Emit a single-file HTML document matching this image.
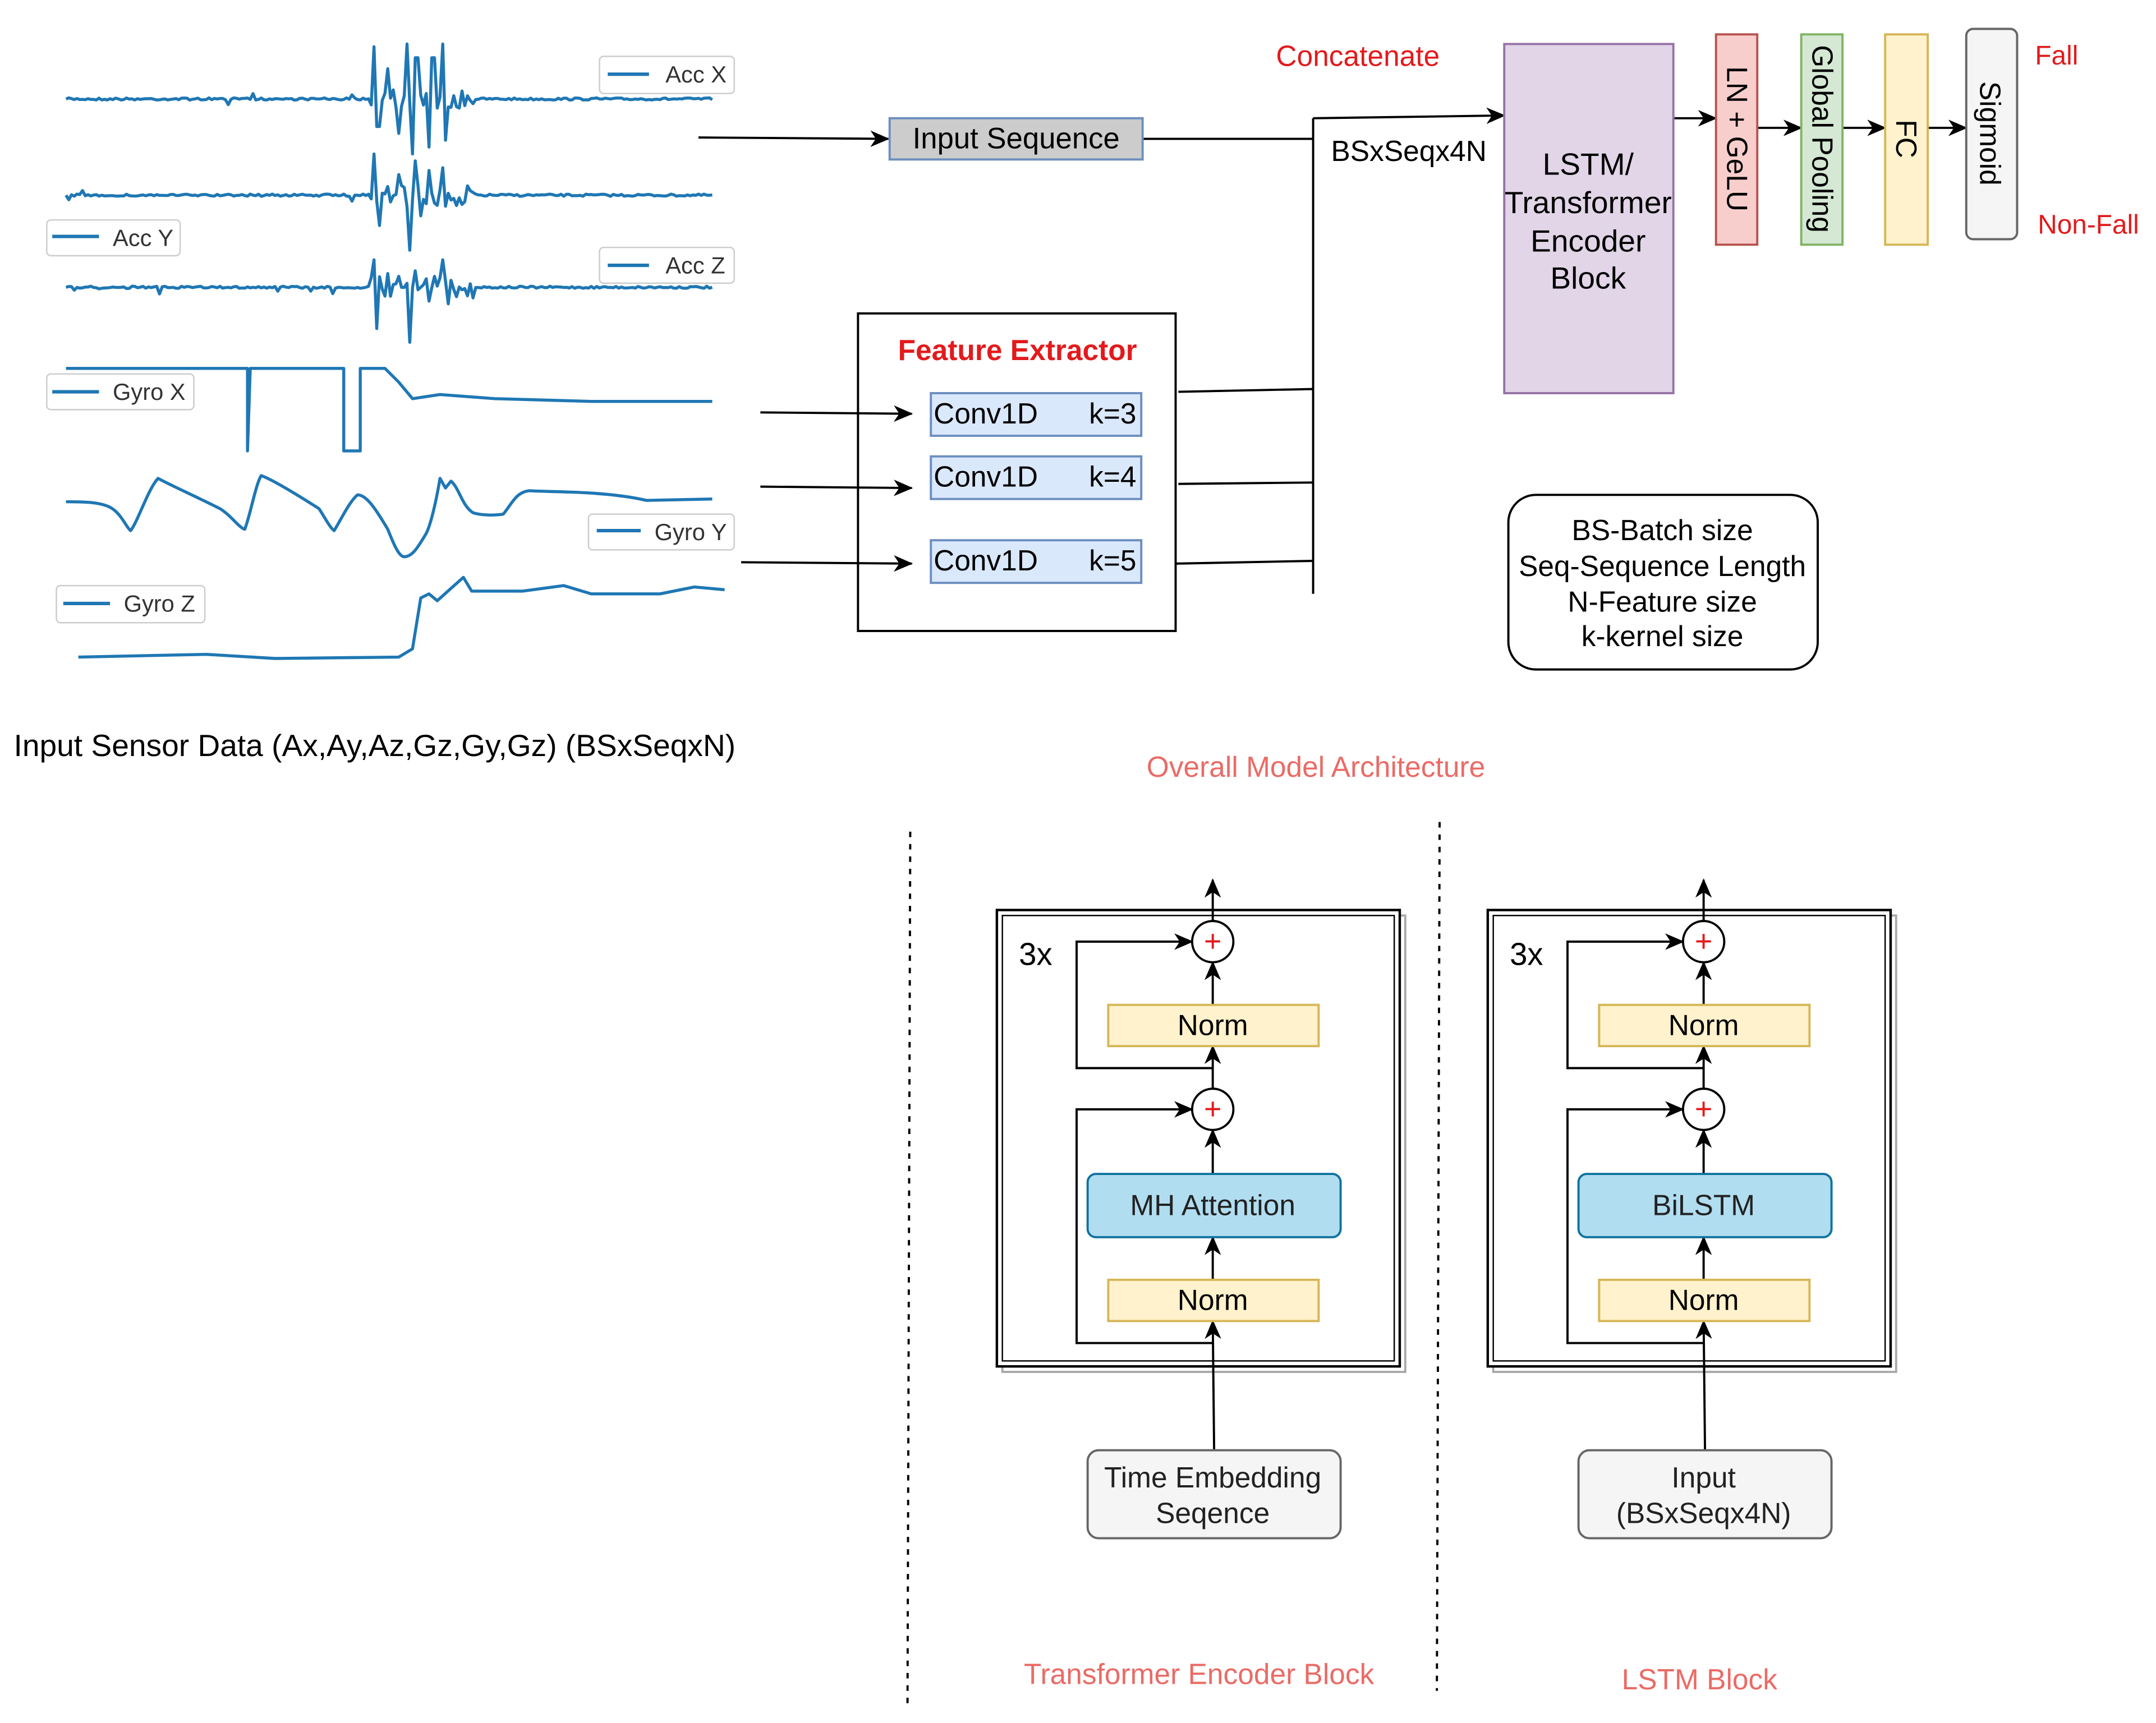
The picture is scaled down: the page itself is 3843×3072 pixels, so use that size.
<!DOCTYPE html>
<html><head><meta charset="utf-8"><style>
html,body{margin:0;padding:0;background:#fff}
svg{display:block}
text{font-family:"Liberation Sans",Arial,sans-serif}
</style></head><body>
<svg id="s" width="3843" height="3072" viewBox="0 0 1568 1253.4" xmlns="http://www.w3.org/2000/svg">
<defs>
<marker id="a" markerWidth="14" markerHeight="12" refX="13" refY="6" orient="auto" markerUnits="userSpaceOnUse"><path d="M0,0 L14,6 L0,12 L4,6 z" fill="#000"/></marker>
</defs>
<rect width="1568" height="1254" fill="#fff"/>
<g id="sig" fill="none" stroke="#1f77b4" stroke-width="2.2" stroke-linejoin="round">
<path d="M48,268 L180,268 L180,328 L182,268 L250,268 L250,328 L262,328 L262,268 L280,268 L290,278 L300,290 L320,287 L360,290 L430,292 L518,292"/>
<path d="M48,365 C60,365 72,365 80,369 C88,373 92,384 95,386 C100,380 108,355 115,348 C122,352 140,360 160,370 C168,375 174,384 178,385 C182,375 186,352 190,346 C196,348 210,356 232,370 C236,376 240,384 243,386 C248,378 254,365 260,360 C266,360 272,368 282,385 C286,395 290,405 294,405 C300,405 304,398 310,388 C314,380 318,360 320,348 L324,355 L328,350 C334,355 336,368 344,373 C350,375 360,375 366,374 C372,367 375,358 385,357 C400,358 440,357 470,364 L518,363"/>
<path d="M57,478 L150,476 L200,479 L290,478 L300,472 L306,435 L312,432 L318,437 L328,428 L337,420 L343,430 L380,430 L410,426 L430,432 L480,432 L505,427 L527,429"/>
</g>
<g font-size="17" fill="#333">
<rect x="436" y="41" width="98" height="27" rx="3" fill="#fff" stroke="#ccc"/><line x1="442" y1="54" x2="472" y2="54" stroke="#1f77b4" stroke-width="2.5"/><text x="484" y="60">Acc X</text>
<rect x="34" y="160" width="97" height="26" rx="3" fill="#fff" stroke="#ccc"/><line x1="38" y1="172" x2="72" y2="172" stroke="#1f77b4" stroke-width="2.5"/><text x="82" y="179">Acc Y</text>
<rect x="436" y="180" width="98" height="26" rx="3" fill="#fff" stroke="#ccc"/><line x1="442" y1="193" x2="472" y2="193" stroke="#1f77b4" stroke-width="2.5"/><text x="484" y="199">Acc Z</text>
<rect x="34" y="272" width="107" height="26" rx="3" fill="#fff" stroke="#ccc"/><line x1="38" y1="285" x2="72" y2="285" stroke="#1f77b4" stroke-width="2.5"/><text x="82" y="291">Gyro X</text>
<rect x="428" y="374" width="106" height="26" rx="3" fill="#fff" stroke="#ccc"/><line x1="434" y1="386" x2="466" y2="386" stroke="#1f77b4" stroke-width="2.5"/><text x="476" y="393">Gyro Y</text>
<rect x="41" y="426" width="108" height="27" rx="3" fill="#fff" stroke="#ccc"/><line x1="46" y1="439" x2="80" y2="439" stroke="#1f77b4" stroke-width="2.5"/><text x="90" y="445">Gyro Z</text>
</g>
<text x="10" y="550" font-size="22.5">Input Sensor Data (Ax,Ay,Az,Gz,Gy,Gz) (BSxSeqxN)</text>

<rect x="624" y="228" width="231" height="231" fill="#fff" stroke="#000" stroke-width="1.6"/>
<g stroke="#000" stroke-width="1.6" fill="none">
<line x1="508" y1="100" x2="646" y2="101" marker-end="url(#a)"/>
<line x1="831" y1="101" x2="955" y2="101"/>
<line x1="955" y1="86" x2="955" y2="432"/>
<line x1="955" y1="86" x2="1094" y2="84" marker-end="url(#a)"/>
<line x1="553" y1="300" x2="663" y2="301" marker-end="url(#a)"/>
<line x1="553" y1="354" x2="663" y2="355" marker-end="url(#a)"/>
<line x1="539" y1="409" x2="663" y2="410" marker-end="url(#a)"/>
<line x1="857" y1="285" x2="955" y2="283"/>
<line x1="857" y1="352" x2="955" y2="351"/>
<line x1="855" y1="410" x2="955" y2="408"/>
<line x1="1217" y1="86" x2="1248" y2="86" marker-end="url(#a)"/>
<line x1="1278" y1="93" x2="1310" y2="93" marker-end="url(#a)"/>
<line x1="1340" y1="93" x2="1371" y2="93" marker-end="url(#a)"/>
<line x1="1402" y1="93" x2="1430" y2="93" marker-end="url(#a)"/>
</g>
<rect x="647" y="86" width="184" height="30" fill="#cccccc" stroke="#6c8ebf" stroke-width="1.6"/>
<text x="739" y="108" font-size="21.5" text-anchor="middle">Input Sequence</text>
<text x="928" y="48" font-size="21" fill="#e31a1c">Concatenate</text>
<text x="968" y="117" font-size="21">BSxSeqx4N</text>
<text x="740" y="262" font-size="21" font-weight="bold" fill="#e31a1c" text-anchor="middle">Feature Extractor</text>
<g font-size="21">
<rect x="677" y="286" width="153" height="31" fill="#dae8fc" stroke="#6c8ebf" stroke-width="1.6"/><text x="679" y="308">Conv1D</text><text x="792" y="308">k=3</text>
<rect x="677" y="332" width="153" height="31" fill="#dae8fc" stroke="#6c8ebf" stroke-width="1.6"/><text x="679" y="354">Conv1D</text><text x="792" y="354">k=4</text>
<rect x="677" y="393" width="153" height="31" fill="#dae8fc" stroke="#6c8ebf" stroke-width="1.6"/><text x="679" y="415">Conv1D</text><text x="792" y="415">k=5</text>
</g>
<rect x="1094" y="32" width="123" height="254" fill="#e1d5e7" stroke="#9673a6" stroke-width="1.6"/>
<g font-size="22.5" text-anchor="middle"><text x="1155" y="127">LSTM/</text><text x="1155" y="155">Transformer</text><text x="1155" y="183">Encoder</text><text x="1155" y="210">Block</text></g>
<rect x="1248" y="25" width="30" height="153" fill="#f8cecc" stroke="#b85450" stroke-width="1.6"/>
<text transform="translate(1256,101) rotate(90)" font-size="21" text-anchor="middle">LN + GeLU</text>
<rect x="1310" y="25" width="30" height="153" fill="#d5e8d4" stroke="#82b366" stroke-width="1.6"/>
<text transform="translate(1318,101) rotate(90)" font-size="21" text-anchor="middle">Global Pooling</text>
<rect x="1371" y="25" width="31" height="153" fill="#fff2cc" stroke="#d6b656" stroke-width="1.6"/>
<text transform="translate(1379,101) rotate(90)" font-size="21" text-anchor="middle">FC</text>
<rect x="1430" y="21" width="37" height="153" rx="5" fill="#f5f5f5" stroke="#666" stroke-width="1.6"/>
<text transform="translate(1440,97) rotate(90)" font-size="21" text-anchor="middle">Sigmoid</text>
<text x="1480" y="47" font-size="19.5" fill="#e31a1c">Fall</text>
<text x="1482" y="170" font-size="19.5" fill="#e31a1c">Non-Fall</text>
<rect x="1097" y="360" width="225" height="127" rx="20" fill="#fff" stroke="#000" stroke-width="1.6"/>
<g font-size="21" text-anchor="middle"><text x="1209" y="393">BS-Batch size</text><text x="1209" y="419">Seq-Sequence Length</text><text x="1209" y="445">N-Feature size</text><text x="1209" y="470">k-kernel size</text></g>
<text x="957" y="565" font-size="21" fill="#ea6b66" text-anchor="middle">Overall Model Architecture</text>
<g stroke="#000" stroke-width="1.6" stroke-dasharray="4,5"><line x1="662" y1="605" x2="660" y2="1240"/><line x1="1047" y1="598" x2="1045" y2="1230"/></g>

<g id="blk">
<rect x="729" y="666" width="293" height="332" fill="none" stroke="#aaa" stroke-width="1.6"/>
<rect x="725" y="662" width="293" height="332" fill="#fff" stroke="#000" stroke-width="1.8"/>
<rect x="729" y="666" width="285" height="324" fill="none" stroke="#000" stroke-width="1"/>
<text x="741" y="702" font-size="23">3x</text>
<g stroke="#000" stroke-width="1.6" fill="none">
<line x1="882" y1="670" x2="882" y2="640" marker-end="url(#a)"/>
<line x1="882" y1="731" x2="882" y2="700" marker-end="url(#a)"/>
<line x1="882" y1="792" x2="882" y2="761" marker-end="url(#a)"/>
<line x1="882" y1="854" x2="882" y2="822" marker-end="url(#a)"/>
<line x1="882" y1="931" x2="882" y2="900" marker-end="url(#a)"/>
<line x1="883" y1="1055" x2="882" y2="961" marker-end="url(#a)"/>
<polyline points="882,777 783,777 783,685 867,685" marker-end="url(#a)"/>
<polyline points="882,977 783,977 783,807 867,807" marker-end="url(#a)"/>
<circle cx="882" cy="685" r="15" fill="#fff"/><circle cx="882" cy="807" r="15" fill="#fff"/>
</g>
<text x="882" y="692" font-size="22" fill="#e31a1c" text-anchor="middle">+</text>
<text x="882" y="814" font-size="22" fill="#e31a1c" text-anchor="middle">+</text>
<rect x="806" y="731" width="153" height="30" fill="#fff2cc" stroke="#d6b656" stroke-width="1.6"/>
<text x="882" y="753" font-size="21" text-anchor="middle">Norm</text>
<rect x="806" y="931" width="153" height="30" fill="#fff2cc" stroke="#d6b656" stroke-width="1.6"/>
<text x="882" y="953" font-size="21" text-anchor="middle">Norm</text>
<rect x="791" y="854" width="184" height="46" rx="6" fill="#b1ddf0" stroke="#10739e" stroke-width="1.6"/>
<rect x="791" y="1055" width="184" height="64" rx="8" fill="#f5f5f5" stroke="#666" stroke-width="1.6"/>
</g>
<use href="#blk" transform="translate(357,0)"/>
<g font-size="21" text-anchor="middle" fill="#222">
<text x="882" y="884">MH Attention</text>
<text x="1239" y="884">BiLSTM</text>
<text x="882" y="1082">Time Embedding</text><text x="882" y="1108">Seqence</text>
<text x="1239" y="1082">Input</text><text x="1239" y="1108">(BSxSeqx4N)</text>
</g>
<text x="872" y="1225" font-size="21" fill="#ea6b66" text-anchor="middle">Transformer Encoder Block</text>
<text x="1236" y="1229" font-size="21" fill="#ea6b66" text-anchor="middle">LSTM Block</text>
</svg>
<script>
(function(){
var seed=7;function r(){seed=(seed*16807)%2147483647;return seed/2147483647;}
var g=document.getElementById('sig');
var spikes=[[[272,-38],[275,20],[282,-22],[290,25],[296,-40],[300,40],[303,-30],[312,35],[315,-30],[322,-40],[324,30]],
[[272,-30],[276,22],[290,-15],[298,40],[302,-25],[306,15],[312,-18],[322,-20],[324,8]],
[[272,-20],[274,30],[282,-10],[290,-8],[298,40],[302,-12],[312,10],[322,-20],[326,12]]];
[[72,0],[142,1],[209,2]].forEach(function(c){
 var y0=c[0],sp=spikes[c[1]],d='M48,'+y0;
 for(var x=50;x<=518;x+=2){
  var y=y0+(r()-0.5)*1.6;
  if(x<345&&r()<0.05)y+= (r()-0.5)*10;
  if(x>268&&x<345){y+=(r()-0.5)*16;}
  sp.forEach(function(s){if(Math.abs(x-s[0])<1.5)y=y0+s[1];});
  d+=' L'+x+','+y.toFixed(1);
 }
 var p=document.createElementNS('http://www.w3.org/2000/svg','path');p.setAttribute('d',d);g.appendChild(p);
});
})();
</script>
</body></html>
